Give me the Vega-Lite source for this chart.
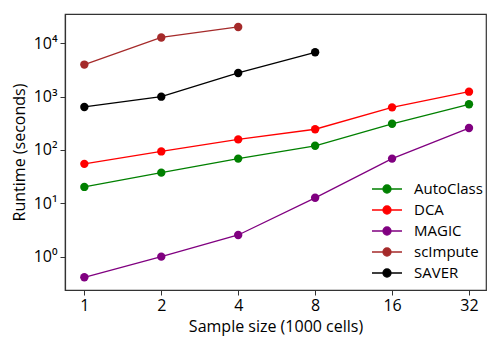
{
  "$schema": "https://vega.github.io/schema/vega-lite/v6.json",
  "width": 421,
  "height": 276,
  "autosize": {"type": "none"},
  "padding": {"left": 65, "top": 14, "right": 2, "bottom": 49},
  "config": {
    "font": "Open Sans",
    "view": {"stroke": "#333", "strokeWidth": 1.2},
    "axis": {"grid": false, "domainColor": "#333", "tickColor": "#333", "labelColor": "#000", "titleColor": "#000", "labelFontSize": 16, "titleFontSize": 16, "titleFontWeight": "normal", "tickSize": 5, "domainWidth": 1.2}
  },
  "data": {"values": [
    {"method": "AutoClass", "size": 1, "runtime": 20.3},
    {"method": "AutoClass", "size": 2, "runtime": 37.6},
    {"method": "AutoClass", "size": 4, "runtime": 69},
    {"method": "AutoClass", "size": 8, "runtime": 120},
    {"method": "AutoClass", "size": 16, "runtime": 310},
    {"method": "AutoClass", "size": 32, "runtime": 720},
    {"method": "DCA", "size": 1, "runtime": 55},
    {"method": "DCA", "size": 2, "runtime": 94},
    {"method": "DCA", "size": 4, "runtime": 158},
    {"method": "DCA", "size": 8, "runtime": 245},
    {"method": "DCA", "size": 16, "runtime": 630},
    {"method": "DCA", "size": 32, "runtime": 1240},
    {"method": "MAGIC", "size": 1, "runtime": 0.41},
    {"method": "MAGIC", "size": 2, "runtime": 1.0},
    {"method": "MAGIC", "size": 4, "runtime": 2.55},
    {"method": "MAGIC", "size": 8, "runtime": 12.7},
    {"method": "MAGIC", "size": 16, "runtime": 69},
    {"method": "MAGIC", "size": 32, "runtime": 258},
    {"method": "scImpute", "size": 1, "runtime": 4000},
    {"method": "scImpute", "size": 2, "runtime": 12900},
    {"method": "scImpute", "size": 4, "runtime": 20300},
    {"method": "SAVER", "size": 1, "runtime": 641},
    {"method": "SAVER", "size": 2, "runtime": 1000},
    {"method": "SAVER", "size": 4, "runtime": 2780},
    {"method": "SAVER", "size": 8, "runtime": 6800}
  ]},
  "mark": {"type": "line", "strokeWidth": 1.3, "point": {"filled": true, "size": 70, "opacity": 1}},
  "encoding": {
    "x": {"field": "size", "type": "quantitative", "title": "Sample size (1000 cells)",
      "scale": {"type": "log", "base": 2, "domain": [0.84, 37.3], "nice": false},
      "axis": {"values": [1, 2, 4, 8, 16, 32], "format": "d", "labelPadding": 2, "titleY": 28}},
    "y": {"field": "runtime", "type": "quantitative", "title": "Runtime (seconds)",
      "scale": {"type": "log", "domain": [0.237, 35500], "nice": false},
      "axis": {"values": [1, 10, 100, 1000, 10000], "labelExpr": "'10' + ['⁰','¹','²','³','⁴'][round(log(datum.value)/LN10)]", "labelPadding": 3, "titlePadding": 6}},
    "color": {"field": "method", "type": "nominal",
      "scale": {"domain": ["AutoClass", "DCA", "MAGIC", "scImpute", "SAVER"], "range": ["#008000", "#ff0000", "#800080", "#a52a2a", "#000000"]},
      "legend": {"title": null, "orient": "none", "legendX": 311, "legendY": 164, "labelFontSize": 15, "symbolType": "M-1.5,0H1.5M-0.4,0A0.4,0.4 0 1,1 0.4,0A0.4,0.4 0 1,1 -0.4,0", "symbolSize": 400, "symbolStrokeWidth": 1.3, "symbolFillColor": null, "rowPadding": 2, "labelOffset": 16}}
  }
}
